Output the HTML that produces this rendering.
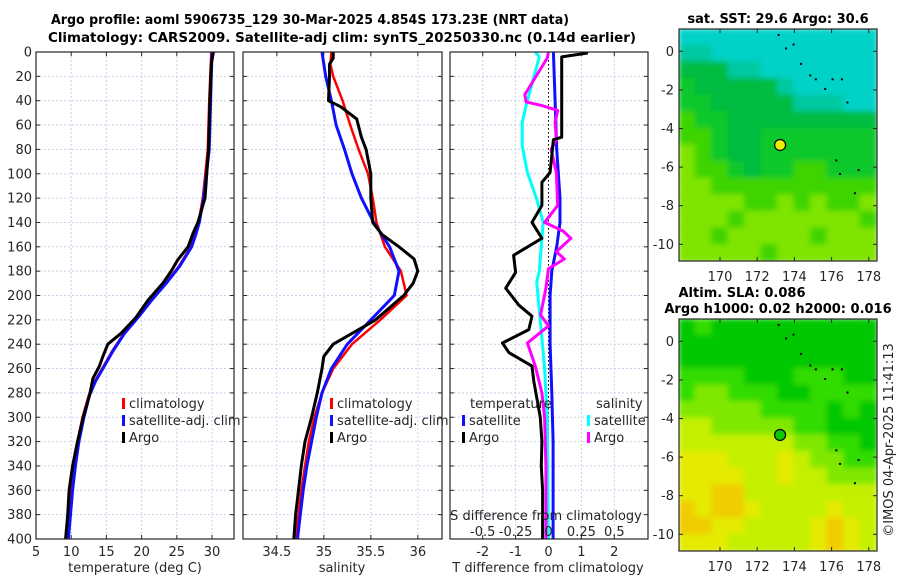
<!DOCTYPE html>
<html><head><meta charset="utf-8">
<style>
html,body{margin:0;padding:0;background:#fff;}
svg{display:block;font-family:"DejaVu Sans","Liberation Sans",sans-serif;}
</style></head>
<body>
<svg id="fig" width="900" height="580" viewBox="0 0 900 580" xmlns="http://www.w3.org/2000/svg">
<defs>
<clipPath id="c1"><rect x="36" y="52" width="198" height="487"/></clipPath>
<clipPath id="c2"><rect x="243" y="52" width="199" height="487"/></clipPath>
<clipPath id="c3"><rect x="450" y="52" width="198" height="487"/></clipPath>
<clipPath id="cm1"><rect x="679" y="29" width="198" height="232"/></clipPath>
<clipPath id="cm2"><rect x="679" y="319" width="198" height="232"/></clipPath>
<filter id="bl" x="-5%" y="-5%" width="110%" height="110%"><feGaussianBlur stdDeviation="3"/></filter>
</defs>
<text x="310" y="24" text-anchor="middle" font-weight="bold" font-size="13" textLength="518" lengthAdjust="spacingAndGlyphs">Argo profile: aoml 5906735_129 30-Mar-2025 4.854S 173.23E (NRT data)</text>
<text x="342" y="42" text-anchor="middle" font-weight="bold" font-size="13" textLength="588" lengthAdjust="spacingAndGlyphs">Climatology: CARS2009. Satellite-adj clim: synTS_20250330.nc (0.14d earlier)</text>
<g id="root"></g>
</svg>
<script>
// ---- data ----
const depthT = [0,10,40,80,120,140,149,160,171,180,190,204,218,231,240,250,258,268,282,300,320,340,360,380,400];
const tempArgo = [30.2,29.9,29.7,29.5,29.0,28.0,27.3,26.6,25.1,24.2,23.0,20.9,19.2,17.1,15.2,14.5,14.0,13.1,12.6,11.7,10.9,10.2,9.7,9.5,9.2];
const depthC = [0,40,80,120,140,150,160,176,190,204,218,231,245,258,270,282,300,320,340,360,380,400];
const tempClim = [29.9,29.6,29.4,28.7,28.1,27.6,27.0,25.3,23.4,21.3,19.4,17.5,15.9,14.6,13.4,12.5,11.6,10.9,10.4,10.0,9.7,9.4];
const tempSat = [30.0,29.8,29.6,28.8,28.2,27.7,27.1,25.4,23.5,21.4,19.5,17.6,16.0,14.7,13.5,12.6,11.8,11.1,10.6,10.2,9.9,9.6];
const depthS = [0,10,20,40,60,80,100,120,140,160,180,200,220,240,260,280,300,320,340,360,380,400];
const salClim = [35.08,35.07,35.10,35.20,35.28,35.37,35.47,35.52,35.56,35.65,35.82,35.88,35.60,35.30,35.10,34.98,34.90,34.84,34.80,34.76,34.73,34.70];
const salSat = [34.98,35.0,35.02,35.08,35.13,35.22,35.30,35.40,35.53,35.70,35.80,35.75,35.50,35.25,35.08,34.98,34.92,34.87,34.82,34.78,34.75,34.72];
const depthSA = [0,5,10,20,40,45,55,70,80,100,120,140,150,160,170,180,190,200,220,240,250,260,280,300,320,340,360,380,400];
const salArgo = [35.10,35.10,35.06,35.06,35.05,35.18,35.35,35.40,35.45,35.50,35.50,35.52,35.62,35.80,35.96,36.00,35.95,35.85,35.55,35.10,35.00,34.98,34.93,34.87,34.80,34.76,34.73,34.70,34.68];
const depthD = [0,1,4,40,70,72,99,107,126,140,153,167,181,194,208,217,228,239,247,258,270,285,300,320,340,360,380,400];
const dTArgo = [1.16,1.16,0.4,0.4,0.4,0.15,0.05,-0.2,-0.2,-0.5,-0.2,-1.06,-1.0,-1.3,-0.9,-0.5,-0.6,-1.4,-1.2,-0.5,-0.45,-0.35,-0.25,-0.2,-0.22,-0.18,-0.18,-0.18];
const depthD2 = [0,40,80,120,140,160,180,200,240,280,320,400];
const dTSat = [0.15,0.2,0.25,0.35,0.35,0.25,0.1,0.05,0.05,0.1,0.14,0.14];
const depthD3 = [0,4,44,58,77,99,121,140,180,189,235,260,300,400];
const dSSat = [-0.10,-0.07,-0.17,-0.2,-0.2,-0.16,-0.09,-0.04,-0.07,-0.09,-0.05,-0.03,-0.01,0];
const depthD4 = [0,5,35,41,44,48,58,72,80,99,126,140,147,153,164,170,178,194,216,225,239,258,280,300,340,400];
const dSArgo = [0,-0.01,-0.18,-0.17,-0.05,0.07,0.05,0.06,0.02,0.06,0.07,-0.03,0.11,0.17,0.06,0.12,0,-0.02,-0.06,0,-0.16,-0.1,-0.05,-0.03,-0.02,-0.02];
const depthTicks = [0,20,40,60,80,100,120,140,160,180,200,220,240,260,280,300,320,340,360,380,400];
const tTicks = [5,10,15,20,25,30];
const sTicks = [34.5,35,35.5,36];
const dTTicks = [-2,-1,0,1,2];
const dSTicks = [-0.5,-0.25,0,0.25,0.5];
const dSTickLabels = ['-0.5','-0.25','0','0.25','0.5'];
const latTicks = [0,-2,-4,-6,-8,-10];
const lonTicks = [170,172,174,176,178];
const sstGrid = [
[5,5,5,5,5,5,5,5,5,5,5,5],[4,4,5,5,5,5,5,5,5,5,5,5],[3,3,3,4,4,5,5,5,5,5,5,5],[2,3,3,3,3,3,4,5,5,5,5,5],
[2,2,3,3,3,3,3,4,4,4,5,5],[1,2,2,3,3,3,3,3,3,3,3,3],[1,1,2,3,3,2,2,2,2,2,2,2],[0,1,2,3,3,2,2,2,2,2,2,2],
[0,1,1,2,3,2,2,1,1,2,2,2],[0,0,1,1,1,1,1,1,1,1,1,1],[0,0,0,0,1,1,0,1,0,1,1,0],[0,0,0,1,0,0,0,0,0,0,0,1],
[0,0,1,0,0,0,0,0,1,0,0,0],[0,0,0,0,0,1,0,0,0,0,0,0]];
const slaGrid = [
[0,1,0,0,0,0,0,0,0,0,0,0],[0,0,0,0,0,0,0,0,0,0,0,0],[0,0,0,0,0,0,0,0,0,0,0,0],[1,1,1,1,0,0,0,1,1,1,0,0],
[1,2,2,1,1,1,0,0,1,1,1,1],[2,2,2,2,2,1,1,1,1,0,1,0],[3,3,2,2,2,2,2,1,1,0,0,0],[3,3,3,3,3,3,3,2,2,1,1,0],
[4,4,4,3,3,3,4,3,2,2,1,1],[4,4,4,4,3,3,4,3,3,2,2,2],[4,4,5,5,3,3,3,3,3,3,3,3],[5,4,5,5,4,3,3,3,3,4,3,3],
[5,5,4,4,3,3,3,3,4,5,4,3],[4,4,4,3,3,3,3,3,4,5,4,3]];
const argoLon = 173.23, argoLat = -4.854;

// ---- helpers ----
const NS="http://www.w3.org/2000/svg";
const root=document.getElementById('root');
function mk(tag,attrs,parent){const e=document.createElementNS(NS,tag);for(const k in attrs)e.setAttribute(k,attrs[k]);(parent||root).appendChild(e);return e;}
const Y=d=>52+d*487/400;
const xT=t=>36+(t-5)*7.04;
const xS=s=>243+(s-34.14)*94;
const xD=t=>548.5+t*32.9;
const xDS=s=>548.5+s*131.6;

function panel(x0,w,name,xticks,xfun,xlabels,showY){
  const g=mk('g',{});
  
  
  mk('rect',{x:x0,y:52,width:w,height:487,fill:'#fff'},g);
  depthTicks.forEach(d=>{
    const l=mk('line',{x1:x0,x2:x0+w,y1:Y(d),y2:Y(d),stroke:'#c8d0e8','stroke-width':1,'stroke-dasharray':'2,2'},g);
    
    mk('line',{x1:x0,x2:x0+4,y1:Y(d),y2:Y(d),stroke:'#262626'},g);
    mk('line',{x1:x0+w-4,x2:x0+w,y1:Y(d),y2:Y(d),stroke:'#262626'},g);
    if(showY){const t=mk('text',{x:x0-4,y:Y(d)+4.5,'text-anchor':'end','font-size':13,fill:'#262626'},g);t.textContent=d;
      }
  });
  xticks.forEach((v,i)=>{
    const x=xfun(v);
    const l=mk('line',{x1:x,x2:x,y1:52,y2:539,stroke:'#c8d0e8','stroke-width':1,'stroke-dasharray':'2,2'},g);
    
    mk('line',{x1:x,x2:x,y1:535,y2:539,stroke:'#262626'},g);
    mk('line',{x1:x,x2:x,y1:52,y2:56,stroke:'#262626'},g);
    const t=mk('text',{x:x,y:556,'text-anchor':'middle','font-size':13,fill:'#262626'},g);t.textContent=xlabels[i];
    
  });
  return g;
}
function line(g,ds,vs,xf,color,w,clip,name){
  const p=ds.map((d,i)=>xf(vs[i]).toFixed(1)+','+Y(d).toFixed(1)).join(' ');
  const e=mk('polyline',{points:p,fill:'none',stroke:color,'stroke-width':w,'stroke-linejoin':'round','clip-path':'url(#'+clip+')'},g);
  
}
function frame(g,x0,w){mk('rect',{x:x0,y:52,width:w,height:487,fill:'none',stroke:'#262626','stroke-width':1.2},g);}
function txt(g,x,y,s,size,name,anchor,extra){const t=mk('text',Object.assign({x:x,y:y,'font-size':size,fill:'#262626','text-anchor':anchor||'start'},extra||{}),g);t.textContent=s;
  return t;}
function legendItem(g,x,y,color,label,name){
  mk('rect',{x:x,y:y-10,width:3,height:11,fill:color},g);
  const t=txt(g,x+7,y,label,13,name);
}

// Panel 1: temperature
const p1=panel(36,198,'temperature-panel',tTicks,xT,tTicks,true);
line(p1,depthC,tempClim,xT,'#ff0000',2.5,'c1','temperature-climatology-line');
line(p1,depthC,tempSat,xT,'#1010ff',3,'c1','temperature-satellite-line');
line(p1,depthT,tempArgo,xT,'#000',3,'c1','temperature-argo-line');
frame(p1,36,198);
legendItem(p1,122,408,'#ff0000','climatology','legend-climatology');
legendItem(p1,122,425,'#1010ff','satellite-adj. clim','legend-satellite');
legendItem(p1,122,442,'#000','Argo','legend-argo');
txt(p1,135,572,'temperature (deg C)',13,'x-axis-title','middle');

// Panel 2: salinity
const p2=panel(243,199,'salinity-panel',sTicks,xS,sTicks,false);
line(p2,depthS,salClim,xS,'#ff0000',2.5,'c2','salinity-climatology-line');
line(p2,depthS,salSat,xS,'#1010ff',3,'c2','salinity-satellite-line');
line(p2,depthSA,salArgo,xS,'#000',3,'c2','salinity-argo-line');
frame(p2,243,199);
legendItem(p2,330,408,'#ff0000','climatology','legend-climatology');
legendItem(p2,330,425,'#1010ff','satellite-adj. clim','legend-satellite');
legendItem(p2,330,442,'#000','Argo','legend-argo');
txt(p2,342,572,'salinity',13,'x-axis-title','middle');

// Panel 3: differences
const p3=panel(450,198,'difference-panel',dTTicks,xD,dTTicks,false);
mk('line',{x1:548.5,x2:548.5,y1:52,y2:539,stroke:'#000','stroke-width':1,'stroke-dasharray':'1.5,2.5'},p3);
line(p3,depthD3,dSSat,xDS,'#00ffff',3,'c3','salinity-diff-satellite-line');
line(p3,depthD2,dTSat,xD,'#1010ff',3,'c3','temperature-diff-satellite-line');
line(p3,depthD4,dSArgo,xDS,'#ff00ff',3,'c3','salinity-diff-argo-line');
line(p3,depthD,dTArgo,xD,'#000',3,'c3','temperature-diff-argo-line');
frame(p3,450,198);
txt(p3,470,408,'temperature',13,'legend-title-temperature');
legendItem(p3,462,425,'#1010ff','satellite','legend-t-satellite');
legendItem(p3,462,442,'#000','Argo','legend-t-argo');
txt(p3,596,408,'salinity',13,'legend-title-salinity');
legendItem(p3,587,425,'#00ffff','satellite','legend-s-satellite');
legendItem(p3,587,442,'#ff00ff','Argo','legend-s-argo');
txt(p3,546,520,'S difference from climatology',13,'s-axis-title','middle');
dSTicks.forEach((v,i)=>txt(p3,xDS(v),536,dSTickLabels[i],13,'s-tick-label','middle'));
txt(p3,548,572,'T difference from climatology',13,'x-axis-title','middle');

// Maps
const LON0=167.8,LON1=178.44,LAT0=1.15,LAT1=-10.9;
const mx=l=>720+(l-170)*18.6;
const sstColors=['#7ee400','#3cd400','#10c82c','#00bc40','#00c8a0','#00d2c8'];
const slaColors=['#00c800','#30dc00','#80e800','#c4f000','#e4ea00','#f0cc00'];
function map(top,grid,colors,name,clip,dotFill){
  const my=l=>top+22.3-l*19.3;
  const g=mk('g',{});
  
  const cg=mk('g',{'clip-path':'url(#'+clip+')'},g);
  const hg=mk('g',{filter:'url(#bl)'},cg);
  const rows=grid.length,cols=grid[0].length;
  const x0=mx(LON0),x1=mx(LON1),y0=my(LAT0),y1=my(LAT1);
  const cw=(x1-x0)/cols,ch=(y1-y0)/rows;
  for(let r=0;r<rows;r++)for(let c=0;c<cols;c++){
    const cell=mk('rect',{x:(x0+c*cw-1).toFixed(1),y:(y0+r*ch-1).toFixed(1),width:(cw+2).toFixed(1),height:(ch+2).toFixed(1),fill:colors[grid[r][c]]},hg);
    
    
  }
  [[173.1,0.9],[173.5,0.2],[173.9,0.4],[174.3,-0.6],[174.8,-1.2],[175.1,-1.4],[175.6,-1.9],[176.0,-1.4],[176.5,-1.4],[176.8,-2.6],[176.2,-5.6],[176.4,-6.3],[177.2,-7.3],[177.4,-6.1]].forEach(p=>{
    mk('rect',{x:mx(p[0]),y:my(p[1]),width:2,height:2,fill:'#000'},cg);
  });
  mk('rect',{x:679,y:top,width:198,height:232,fill:'none',stroke:'#262626','stroke-width':1.2},g);
  latTicks.forEach(l=>{
    const y=my(l);
    mk('line',{x1:679,x2:683,y1:y,y2:y,stroke:'#262626'},g);
    mk('line',{x1:873,x2:877,y1:y,y2:y,stroke:'#262626'},g);
    txt(g,674,y+4.5,String(l),13,'lat-tick-label','end');
  });
  lonTicks.forEach(l=>{
    const x=mx(l);
    mk('line',{x1:x,x2:x,y1:top+228,y2:top+232,stroke:'#262626'},g);
    mk('line',{x1:x,x2:x,y1:top,y2:top+4,stroke:'#262626'},g);
    txt(g,x,top+252,String(l),13,'lon-tick-label','middle');
  });
  const m=mk('circle',{cx:mx(argoLon),cy:my(argoLat),r:5.5,fill:dotFill,stroke:'#000','stroke-width':1.2},g);
  
  return g;
}
const m1=map(29,sstGrid,sstColors,'sst-map','cm1','#e8f000');
txt(m1,778,23,'sat. SST: 29.6 Argo: 30.6',13,'sst-map-title','middle',{'font-weight':'bold',fill:'#000'});
const m2=map(319,slaGrid,slaColors,'sla-map','cm2','#10c800');
txt(m2,742,297,'Altim. SLA: 0.086',13,'sla-map-title','middle',{'font-weight':'bold',fill:'#000'});
txt(m2,778,313,'Argo h1000: 0.02 h2000: 0.016',13,'sla-map-subtitle','middle',{'font-weight':'bold',fill:'#000'});
txt(root,0,0,'©IMOS 04-Apr-2025 11:41:13',13,'imos-timestamp','middle',{transform:'translate(893,440) rotate(-90)'});
</script>
</body></html>
